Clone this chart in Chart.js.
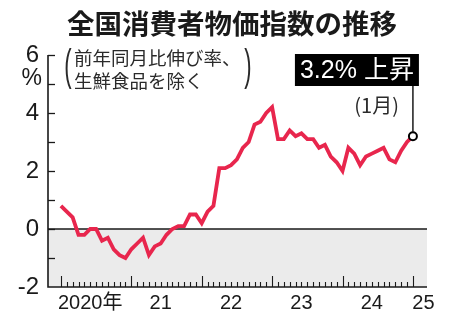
<!DOCTYPE html>
<html>
<head>
<meta charset="utf-8">
<script src="https://cdn.jsdelivr.net/npm/chart.js@4/dist/chart.umd.min.js"></script>
<style>
  html, body { margin: 0; padding: 0; background: #fff; }
  canvas { display: block; }
</style>
</head>
<body>
<canvas id="cpi" width="450" height="325" style="width:450px;height:325px"></canvas>
<script>
// Core CPI (excluding fresh food), year-on-year change in %, monthly
const y2020 = [0.8, 0.6, 0.4, -0.2, -0.2, 0.0, 0.0, -0.4, -0.3, -0.7, -0.9, -1.0];
const y2021 = [-0.7, -0.5, -0.3, -0.9, -0.6, -0.5, -0.2, 0.0, 0.1, 0.1, 0.5, 0.5];
const y2022 = [0.2, 0.6, 0.8, 2.1, 2.1, 2.2, 2.4, 2.8, 3.0, 3.6, 3.7, 4.0];
const y2023 = [4.2, 3.1, 3.1, 3.4, 3.2, 3.3, 3.1, 3.1, 2.8, 2.9, 2.5, 2.3];
const y2024 = [2.0, 2.8, 2.6, 2.2, 2.5, 2.6, 2.7, 2.8, 2.4, 2.3, 2.7, 3.0];
const y2025 = [3.2];

const yearLabels = ['2020年', '21', '22', '23', '24', '25'];
const yLabelValues = [-2, 0, 2, 4, 6];
const unitLabel = '%';
const latestMonthLabel = '(1月)';

const titleText = '全国消費者物価指数の推移';
const noteLines = ['前年同月比伸び率、', '生鮮食品を除く'];

const series = [...y2020, ...y2021, ...y2022, ...y2023, ...y2024, ...y2025];
const points = series.map((v, i) => ({ x: i, y: v }));
const lastIndex = series.length - 1;
const lastValue = series[lastIndex];

// year label sits under the middle of each full year; the partial final year just right of its tick
const yearLabelPos = yearLabels.map((_, k) => {
  const start = k * 12;
  return start + 12 <= series.length ? start + 5 : start + 1.8;
});

const LATIN = "'Liberation Sans', 'Noto Sans CJK JP', sans-serif";
const CJK = "'Noto Sans CJK JP', sans-serif";
const INK = '#1a1a1a';

const decor = {
  id: 'decor',
  beforeDraw(chart) {
    const { ctx, chartArea: a, scales: { y } } = chart;
    const y0 = y.getPixelForValue(0);
    ctx.save();
    ctx.fillStyle = '#ebebeb';
    ctx.fillRect(a.left, y0, a.right - a.left, a.bottom - y0);
    ctx.restore();
  },
  beforeDatasetsDraw(chart) {
    const { ctx, chartArea: a, scales: { x, y } } = chart;
    ctx.save();
    ctx.strokeStyle = INK;
    // zero line
    const y0 = y.getPixelForValue(0);
    ctx.lineWidth = 1.6;
    ctx.beginPath(); ctx.moveTo(a.left, y0); ctx.lineTo(a.right, y0); ctx.stroke();
    // axes
    ctx.lineWidth = 1.6;
    ctx.beginPath();
    ctx.moveTo(a.left, y.getPixelForValue(y.max));
    ctx.lineTo(a.left, a.bottom);
    ctx.lineTo(a.right, a.bottom);
    ctx.stroke();
    // y tick marks (inward)
    ctx.lineWidth = 1.3;
    for (let v = y.min + 1; v <= y.max; v++) {
      const py = Math.round(y.getPixelForValue(v)) + 0.5;
      ctx.beginPath(); ctx.moveTo(a.left, py); ctx.lineTo(a.left + 7, py); ctx.stroke();
    }
    // monthly tick marks, taller at each January
    ctx.lineWidth = 1.1;
    for (let i = 0; i <= lastIndex; i++) {
      const px = Math.round(x.getPixelForValue(i)) + 0.5;
      const len = i % 12 === 0 ? 11 : 5;
      ctx.beginPath(); ctx.moveTo(px, a.bottom); ctx.lineTo(px, a.bottom - len); ctx.stroke();
    }
    ctx.restore();
  },
  afterDraw(chart) {
    const { ctx, scales: { x, y } } = chart;
    ctx.save();
    ctx.fillStyle = INK;
    ctx.textBaseline = 'middle';

    // title
    ctx.textAlign = 'center';
    ctx.font = `bold 27.5px ${CJK}`;
    ctx.fillText(titleText, 232, 24);

    // note in tall parentheses
    ctx.textAlign = 'left';
    ctx.fillStyle = '#2a2a2a';
    ctx.font = `18.5px ${CJK}`;
    ctx.fillText(noteLines[0], 74, 58);
    ctx.fillText(noteLines[1], 74, 81);
    const tall = (ch, cx, cy) => {
      ctx.save();
      ctx.translate(cx, cy);
      ctx.scale(1, 2.0);
      ctx.textAlign = 'center';
      ctx.font = `22px ${LATIN}`;
      ctx.fillText(ch, 0, 0);
      ctx.restore();
    };
    tall('(', 68, 68);
    tall(')', 248, 68);

    // unit next to the 5 tick
    ctx.fillStyle = INK;
    ctx.textAlign = 'right';
    ctx.font = `23px ${LATIN}`;
    ctx.fillText(unitLabel, 42, y.getPixelForValue(5) - 5);

    // callout for the latest value
    const px = x.getPixelForValue(lastIndex);
    const py = y.getPixelForValue(lastValue);
    const boxR = px + 6, boxL = px - 118, boxT = 54, boxB = 86;
    ctx.strokeStyle = INK;
    ctx.lineWidth = 1.5;
    ctx.beginPath(); ctx.moveTo(px, boxB); ctx.lineTo(px, py - 4); ctx.stroke();
    ctx.fillStyle = '#000';
    ctx.fillRect(boxL, boxT, boxR - boxL, boxB - boxT);
    ctx.fillStyle = '#fff';
    ctx.textAlign = 'center';
    ctx.font = `25px ${LATIN}`;
    ctx.fillText(`${lastValue.toFixed(1)}% 上昇`, (boxL + boxR) / 2, (boxT + boxB) / 2 + 1);

    ctx.fillStyle = '#2a2a2a';
    ctx.textAlign = 'right';
    ctx.font = `20px ${CJK}`;
    ctx.fillText(latestMonthLabel, px - 14, 105);
    ctx.restore();
  }
};

new Chart(document.getElementById('cpi'), {
  type: 'line',
  data: {
    datasets: [{
      data: points,
      borderColor: '#e8264d',
      borderWidth: 3.8,
      tension: 0,
      borderJoinStyle: 'miter',
      pointRadius: (c) => (c.dataIndex === lastIndex ? 4 : 0),
      pointBackgroundColor: '#fff',
      pointBorderColor: '#000',
      pointBorderWidth: 2,
      pointHoverRadius: 0
    }]
  },
  options: {
    responsive: false,
    devicePixelRatio: 1,
    animation: false,
    events: [],
    layout: { padding: { top: 55, right: 23, left: 0, bottom: 0 } },
    plugins: { legend: { display: false }, tooltip: { enabled: false }, title: { display: false } },
    scales: {
      x: {
        type: 'linear',
        min: -2.2,
        max: 62.4,
        grid: { display: false, drawTicks: false },
        border: { display: false },
        afterBuildTicks: (s) => { s.ticks = yearLabelPos.map((v) => ({ value: v })); },
        afterFit: (s) => { s.height = 38; },
        ticks: {
          autoSkip: false,
          maxRotation: 0,
          padding: 4,
          color: INK,
          font: { family: LATIN, size: 20 },
          callback: (v) => {
            const k = yearLabelPos.indexOf(v);
            return k >= 0 ? yearLabels[k] : '';
          }
        }
      },
      y: {
        min: -2,
        max: 6,
        grid: { display: false, drawTicks: false },
        border: { display: false },
        afterFit: (s) => { s.width = 48; },
        ticks: {
          stepSize: 1,
          padding: 9,
          color: INK,
          font: { family: LATIN, size: 24 },
          callback: (v) => (yLabelValues.includes(v) ? String(v) : '')
        }
      }
    }
  },
  plugins: [decor]
});
</script>
</body>
</html>
